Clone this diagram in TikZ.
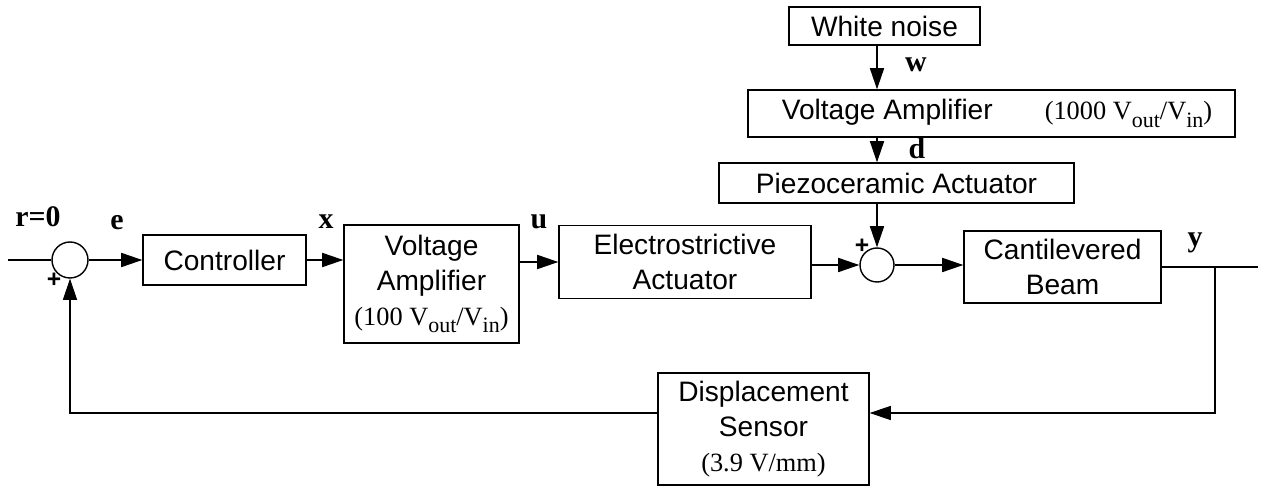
\documentclass[tikz,border=0pt]{standalone}
\usepackage{fontspec}
\setmainfont{Liberation Serif}
\setsansfont{Liberation Sans}
\usetikzlibrary{arrows.meta}
\newcommand{\vsub}[1]{\raisebox{-0.6ex}{\fontsize{12.5}{12.5}\selectfont #1}}

\begin{document}
\begin{tikzpicture}[x=0.02cm, y=-0.02cm, >={Triangle[length=12pt,width=8pt]}, line width=0.8pt,
    every node/.style={font=\sffamily\fontsize{16}{20}\selectfont},
    block/.style={draw, rectangle, align=center, inner sep=0pt},
    sumnode/.style={draw, circle, minimum size=0.72cm, inner sep=0pt},
    sig/.style={font=\rmfamily\bfseries\fontsize{17}{20}\selectfont},
    plus/.style={font=\sffamily\bfseries\fontsize{14}{14}\selectfont, inner sep=0pt}]
        \useasboundingbox (0,0) rectangle (1262,486);

        % forward path
        \node[sumnode] (s1) at (70,260) {};
        \node[block, minimum width=3.26cm, minimum height=1.0cm] (ctrl) at (224.5,260) {Controller};
        \node[block, minimum width=3.5cm, minimum height=2.36cm] (va1) at (431.5,284)
            {Voltage\\Amplifier\\{\rmfamily\fontsize{15}{18}\selectfont(100 V\vsub{out}/V\vsub{in})}};
        \node[block, minimum width=5.04cm, minimum height=1.46cm] (ea) at (685,262) {Electrostrictive\\Actuator};
        \node[sumnode, minimum size=0.68cm] (s2) at (877,265) {};
        \node[block, minimum width=3.94cm, minimum height=1.44cm] (cb) at (1062.5,267) {Cantilevered\\Beam};

        % disturbance path
        \node[block, minimum width=3.82cm, minimum height=0.76cm] (wn) at (884.5,26) {White noise};
        \node[block, minimum width=9.74cm, minimum height=0.94cm] (va2) at (991.5,113.5)
            {\hspace{0.22cm}Voltage Amplifier\hspace{1.04cm}{\rmfamily\fontsize{15}{18}\selectfont(1000 V\vsub{out}/V\vsub{in})}};
        \node[block, minimum width=7.1cm, minimum height=0.8cm] (pz) at (896.5,183) {Piezoceramic Actuator};

        % sensor
        \node[block, minimum width=4.22cm, minimum height=2.24cm] (ds) at (763.5,429)
            {Displacement\\Sensor\\{\rmfamily\fontsize{15}{18}\selectfont(3.9 V/mm)}};

        % signal names
        \node[sig] (rlbl) at (38,217) {r=0};
        \node[sig] (elbl) at (117,223) {e};
        \node[sig] (xlbl) at (326,222) {x};
        \node[sig] (ulbl) at (539,222) {u};
        \node[sig] (ylbl) at (1195,243) {y};
        \node[sig] (wlbl) at (916,65) {w};
        \node[sig] (dlbl) at (917,148) {d};
        \node[plus] (p1) at (54,280) {+};
        \node[plus] (p2) at (862,246) {+};

        \coordinate (in) at (8,260);
        \coordinate (out) at (1258,267);
        \coordinate (br) at (1215,267);
        \coordinate (fb) at (1215,413);

        \draw (in) -- (s1.west);
        \draw[->] (s1.east) -- (ctrl.west);
        \draw[->] (ctrl.east) -- (ctrl.east -| va1.west);
        \draw[->] (va1.east |- ea.west) -- (ea.west);
        \draw[->] (ea.east |- s2.west) -- (s2.west);
        \draw[->] (s2.east) -- (s2.east -| cb.west);

        \draw[->] (wn.south -| s2) -- (va2.north -| s2);
        \draw[->] (va2.south -| s2) -- (pz.north -| s2);
        \draw[->] (pz.south -| s2) -- (s2.north);

        \draw[line width=0.6pt] (cb.east) -- (out);
        \draw[->, line width=0.6pt] (br) -- (fb) -- (fb -| ds.east);
        \draw[->, line width=0.6pt] (ds.west |- fb) -- (s1 |- fb) -- (s1.south);
    \end{tikzpicture}
\end{document}
